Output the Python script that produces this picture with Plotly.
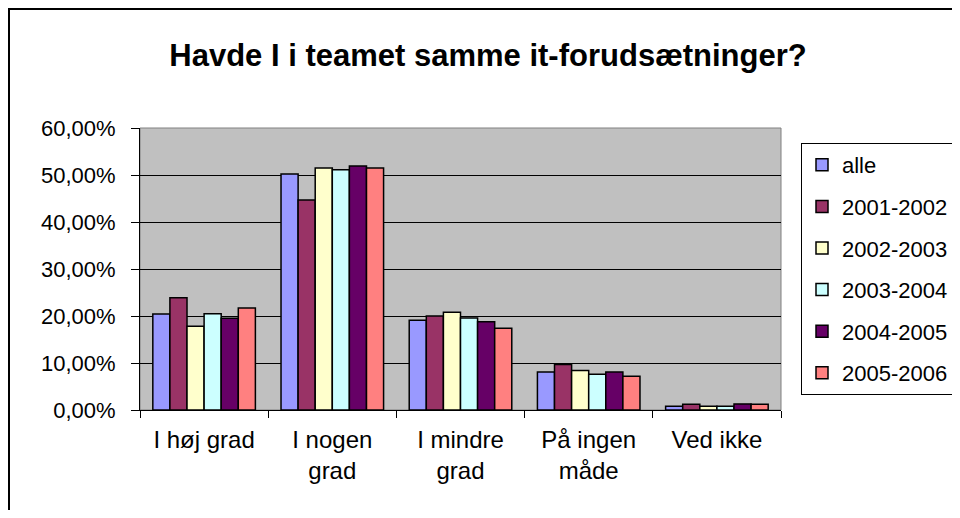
import plotly.graph_objects as go

categories = ["I høj grad", "I nogen<br>grad", "I mindre<br>grad", "På ingen<br>måde", "Ved ikke"]
series_names = ["alle", "2001-2002", "2002-2003", "2003-2004", "2004-2005", "2005-2006"]
alle = [0.204, 0.502, 0.191, 0.081, 0.008]
y2001_2002 = [0.239, 0.447, 0.200, 0.097, 0.012]
y2002_2003 = [0.178, 0.515, 0.208, 0.084, 0.008]
y2003_2004 = [0.205, 0.511, 0.196, 0.076, 0.008]
y2004_2005 = [0.195, 0.519, 0.188, 0.081, 0.013]
y2005_2006 = [0.217, 0.515, 0.174, 0.072, 0.012]
series_values = [alle, y2001_2002, y2002_2003, y2003_2004, y2004_2005, y2005_2006]
colors = ["#9999FF", "#993366", "#FFFFCC", "#CCFFFF", "#660066", "#FF8080"]
y_tick_vals = [0, 0.1, 0.2, 0.3, 0.4, 0.5, 0.6]
y_tick_text = ["0,00%", "10,00%", "20,00%", "30,00%", "40,00%", "50,00%", "60,00%"]
title_text = "Havde I i teamet samme it-forudsætninger?"

FONT = "Liberation Sans, Arial, sans-serif"
fig = go.Figure()
for name, vals, col in zip(series_names, series_values, colors):
    fig.add_trace(go.Bar(
        x=categories, y=vals, name=name, legendgroup=name,
        marker=dict(color=col, line=dict(color="black", width=1.5)),
    ))

# the page has an 8px body margin, so figure coordinates are window - 8;
# the figure is sized so that the page does not overflow the 960x518 window
W, H = 944, 502
L, R, T, B = 132, 773, 120, 402
fig.update_layout(
    width=W, height=H,
    margin=dict(l=L, r=W - R, t=T, b=H - B, autoexpand=False),
    paper_bgcolor="white",
    plot_bgcolor="#C0C0C0",
    barmode="group", bargap=0.2, bargroupgap=0,
    font=dict(family=FONT, size=22, color="black"),
    title=dict(text="<b>" + title_text + "</b>", x=(480 - 0) / W, xanchor="center",
               y=1 - 47 / H, yanchor="middle",
               font=dict(family=FONT, size=31, color="black")),
    legend=dict(x=(793 - L) / (R - L), xanchor="left",
                y=(B - 135) / (B - T), yanchor="top",
                bgcolor="white", bordercolor="black", borderwidth=1,
                font=dict(family=FONT, size=22), tracegroupgap=10,
                itemclick=False),
    showlegend=True,
)
fig.update_xaxes(
    type="category", tickson="boundaries", ticks="outside", ticklen=7,
    tickcolor="black", showline=True, linecolor="black", linewidth=1,
    showgrid=False, tickfont=dict(family=FONT, size=24), ticklabelstandoff=8,
)
fig.update_yaxes(
    range=[0, 0.6], tickvals=y_tick_vals, ticktext=y_tick_text,
    ticks="outside", ticklen=8, tickcolor="black",
    showline=True, linecolor="black", linewidth=1,
    showgrid=True, gridcolor="black", gridwidth=1, zeroline=False,
    tickfont=dict(family=FONT, size=22), ticklabelstandoff=11,
)
# plot-area border (grey top and right edges)
fig.add_shape(type="rect", xref="paper", yref="paper", x0=0, x1=1, y0=0, y1=1,
              line=dict(color="#808080", width=1), layer="below")
# outer chart border
fig.add_shape(type="rect", xref="paper", yref="paper",
              x0=(1 - L) / (R - L), x1=(990 - L) / (R - L),
              y0=(B - 560) / (B - T), y1=(B - 1) / (B - T),
              line=dict(color="black", width=2))
fig.write_html("out.html")
